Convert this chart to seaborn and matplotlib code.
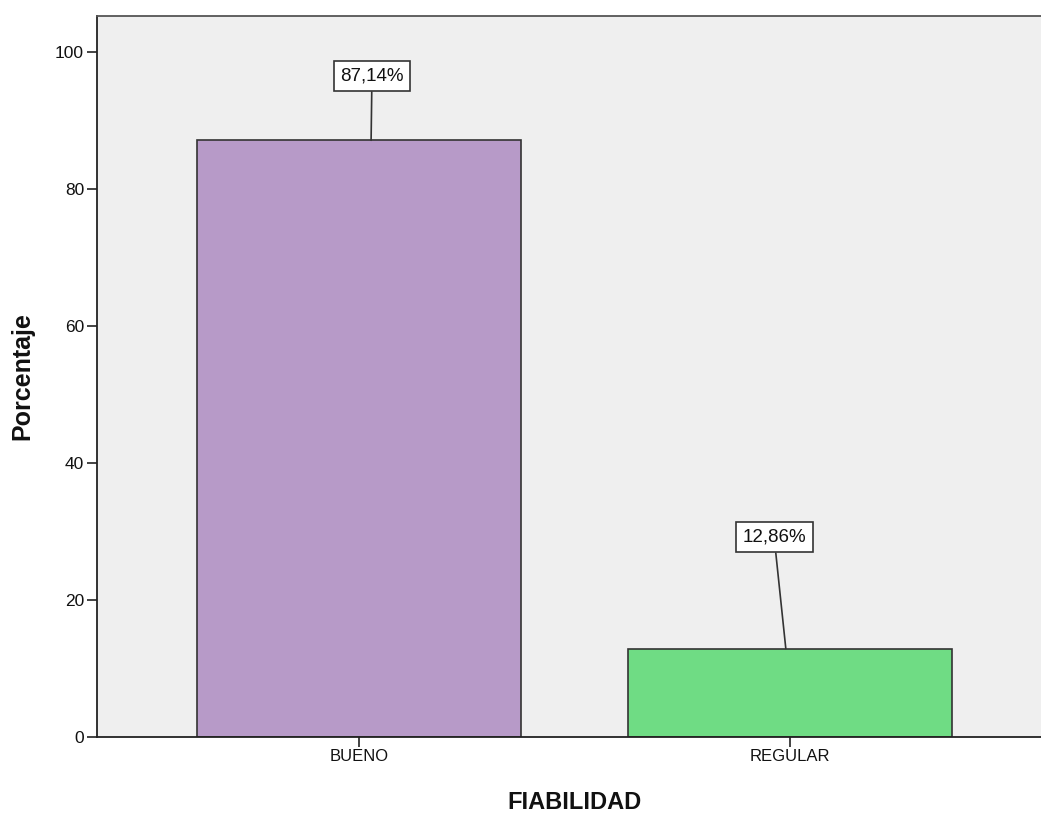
import matplotlib
matplotlib.use("Agg")
import matplotlib.pyplot as plt
import seaborn as sns
import pandas as pd

# Data
categorias = ["BUENO", "REGULAR"]
porcentajes = [87.14, 12.86]
etiquetas = ["87,14%", "12,86%"]
colores = ["#B79AC8", "#6FDC84"]

sns.set_style("white")
plt.rcParams["font.family"] = ["Liberation Sans", "DejaVu Sans"]

df = pd.DataFrame({"FIABILIDAD": categorias, "Porcentaje": porcentajes})

fig = plt.figure(figsize=(10.41, 8.14), dpi=100)
ax = fig.add_axes([0.0927, 0.0952, 0.9073, 0.8851])
ax.set_facecolor("#EFEFEF")

sns.barplot(data=df, x="FIABILIDAD", y="Porcentaje", hue="FIABILIDAD",
            palette=colores, saturation=1, width=0.75, edgecolor="#333333",
            linewidth=1.2, legend=False, ax=ax)

ax.set_xlim(-0.609, 1.582)
ax.set_ylim(0, 105.3)
ax.set_yticks([0, 20, 40, 60, 80, 100])

# Value callouts with leader lines
offsets = [(0.03, 96.5, 0.028), (-0.037, 29.1, -0.01)]
for i, (lab, val) in enumerate(zip(etiquetas, porcentajes)):
    dx_text, y_text, dx_pt = offsets[i]
    ax.annotate(lab, xy=(i + dx_pt, val), xytext=(i + dx_text, y_text),
                ha="center", va="center", fontsize=13.5, color="#111111",
                bbox=dict(boxstyle="square,pad=0.35", fc="white", ec="#333333", lw=1.2),
                arrowprops=dict(arrowstyle="-", color="#333333", lw=1.2,
                                shrinkA=0, shrinkB=0))

for side in ["left", "bottom", "top"]:
    ax.spines[side].set_visible(True)
    ax.spines[side].set_color("#222222")
    ax.spines[side].set_linewidth(1.3)
ax.spines["right"].set_visible(False)
ax.spines["top"].set_color("#555555")

ax.tick_params(axis="both", which="both", direction="out", length=7,
               width=1.2, color="#222222", labelsize=12, labelcolor="#111111",
               left=True, bottom=True, pad=2)
ax.tick_params(axis="y", labelsize=12.5)
ax.set_xlabel("FIABILIDAD", fontsize=17, fontweight="bold", color="#111111")
ax.set_ylabel("Porcentaje", fontsize=18, fontweight="bold", color="#111111")
ax.xaxis.set_label_coords(0.506, -0.075)
ax.yaxis.set_label_coords(-0.066, 0.5)

fig.savefig("out.png", dpi=100)
